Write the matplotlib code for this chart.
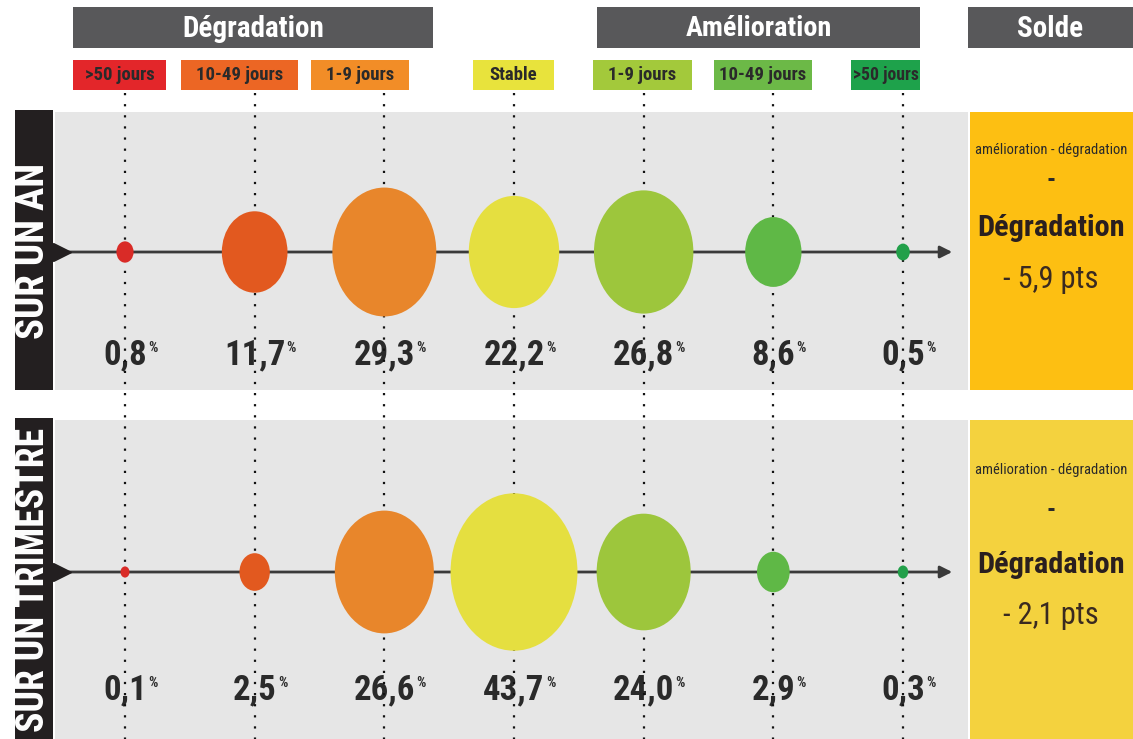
import matplotlib
matplotlib.use("Agg")
import matplotlib.pyplot as plt
from matplotlib.patches import Rectangle, Ellipse
from matplotlib import font_manager as fm
import numpy as np

# ---------------- data ----------------
categories = [">50 jours", "10-49 jours", "1-9 jours", "Stable", "1-9 jours", "10-49 jours", ">50 jours"]
groups = ["Dégradation", "Amélioration", "Solde"]
periods = ["SUR UN AN", "SUR UN TRIMESTRE"]
values_an = [0.8, 11.7, 29.3, 22.2, 26.8, 8.6, 0.5]
values_trim = [0.1, 2.5, 26.6, 43.7, 24.0, 2.9, 0.3]
solde_an = "- 5,9 pts"
solde_trim = "- 2,1 pts"
solde_formula = "amélioration - dégradation"
solde_verdict = "Dégradation"

label_colors = ["#e3262a", "#ec6624", "#f28d27", "#e8e33c", "#a3c93b", "#6cb947", "#1ea24b"]
bubble_colors = ["#d92b27", "#e2591f", "#e8862b", "#e5df40", "#9dc63c", "#5fb846", "#22a04a"]

# ---- pick a narrow font if one is installed ----
names = {f.name for f in fm.fontManager.ttflist}
narrow = None
for n in ["Liberation Sans Narrow", "Roboto Condensed", "Open Sans Condensed", "Noto Sans Condensed",
          "DejaVu Sans Condensed"]:
    if n in names:
        narrow = n
        break
STRETCH = "normal"
if narrow is None:
    for f in fm.fontManager.ttflist:
        if f.stretch in ("condensed", "semi-condensed", "extra-condensed") and f.name in (
                "DejaVu Sans", "Noto Sans", "Open Sans", "Roboto", "Inter"):
            narrow = f.name
            STRETCH = f.stretch
            break
FAMILY = [narrow, "DejaVu Sans"] if narrow else ["DejaVu Sans"]
plt.rcParams["font.family"] = FAMILY

W, H = 1133, 739
fig = plt.figure(figsize=(W / 100, H / 100), dpi=100)
ax = fig.add_axes([0, 0, 1, 1])
ax.set_axis_off()
renderer = fig.canvas.get_renderer()

PX0, STEP = 125.0, (903 - 125) / 6.0
def px2x(px):
    return (px - PX0) / STEP
ax.set_xlim(px2x(0), px2x(W))
ax.set_ylim(H, 0)
xs = np.arange(len(categories))

def rect(px_l, y_t, px_r, y_b, color, z=1):
    r = Rectangle((px2x(px_l), y_t), px2x(px_r) - px2x(px_l), y_b - y_t,
                  facecolor=color, edgecolor="none", zorder=z)
    ax.add_patch(r)
    return r

def txt(xpx, y, s, size, maxw=None, maxh=None, **kw):
    t = ax.text(px2x(xpx), y, s, ha=kw.pop("ha", "center"), va=kw.pop("va", "center"),
                fontsize=size, fontstretch=STRETCH, **kw)
    if maxw or maxh:
        for _ in range(40):
            bb = t.get_window_extent(renderer)
            ok = (maxw is None or bb.width <= maxw) and (maxh is None or bb.height <= maxh)
            if ok:
                break
            t.set_fontsize(t.get_fontsize() * 0.97)
    return t

hdr = "#58585a"
hdr_boxes = [(73, 433), (597, 920), (968, 1133)]
for (l, r), g in zip(hdr_boxes, groups):
    rect(l, 7, r, 48, hdr)
    txt((l + r) / 2, 29, g, 21, maxw=150, color="white", fontweight="bold", zorder=3)

lab_boxes = [(73, 166), (181, 298), (311, 409), (473, 554), (593, 692), (714, 812), (851, 920)]
for (l, r), c, name in zip(lab_boxes, label_colors, categories):
    rect(l, 60, r, 90, c)
    txt((l + r) / 2, 75.5, name, 13.5, maxw=(r - l) - 3, color="#2a2a2a",
        fontweight="bold", zorder=3)

panels = [
    dict(top=112, bot=390, axis_y=252, lab_y=355, vals=values_an, solde=solde_an,
         solde_col="#fdbf12", name=periods[0], txt_y=(150, 180, 228, 280)),
    dict(top=420, bot=739, axis_y=572, lab_y=690, vals=values_trim, solde=solde_trim,
         solde_col="#f4d23e", name=periods[1], txt_y=(470, 510, 565, 615)),
]

K = 19.2
for p in panels:
    rect(55, p["top"], 968, p["bot"], "#e6e6e6", z=0)
    rect(15, p["top"] - 2, 53, p["bot"], "#231f20", z=1)
    t = ax.text(px2x(34), (p["top"] + p["bot"]) / 2, p["name"], rotation=90, ha="center",
                va="center", color="white", fontsize=28, fontweight="bold",
                fontstretch=STRETCH, zorder=3)
    span = p["bot"] - p["top"] - 10
    for _ in range(40):
        if t.get_window_extent(renderer).height <= span:
            break
        t.set_fontsize(t.get_fontsize() * 0.97)
    rect(970, p["top"], 1133, p["bot"], p["solde_col"], z=1)
    txt(1051, p["txt_y"][0], solde_formula, 10.5, maxw=158, color="#2a2a2a", zorder=3)
    txt(1051, p["txt_y"][1], "-", 18, color="#2a2a2a", fontweight="bold", zorder=3)
    txt(1051, p["txt_y"][2], solde_verdict, 24, maxw=150, color="#2a1f1f",
        fontweight="bold", zorder=3)
    txt(1051, p["txt_y"][3], p["solde"], 22, maxw=110, color="#3a2a20", zorder=3)

    ax.annotate("", xy=(px2x(955), p["axis_y"]), xytext=(px2x(60), p["axis_y"]),
                arrowprops=dict(arrowstyle="-|>", color="#3a3a3a", lw=2,
                                mutation_scale=18), zorder=2)
    ax.plot([px2x(62)], [p["axis_y"]], marker=">", color="#231f20", markersize=13, zorder=4)

    for x, v, c in zip(xs, p["vals"], bubble_colors):
        w = max(K * np.sqrt(v), 9)
        ax.add_patch(Ellipse((x, p["axis_y"]), w / STEP, w * 1.24, facecolor=c,
                             edgecolor="none", zorder=5))
        lab = f"{v:.1f}".replace(".", ",")
        tn = ax.text(x, p["lab_y"], lab, ha="center", va="center", color="#2a2a2a",
                     fontsize=25, fontweight="bold", fontstretch=STRETCH, zorder=3)
        bb = tn.get_window_extent(renderer)
        ax.annotate("%", xy=(x, p["lab_y"]), xytext=(bb.width / 2 * 0.72 + 1, 5),
                    textcoords="offset points", ha="left", va="center", fontsize=10.5,
                    fontweight="bold", color="#2a2a2a", zorder=3)

for x in xs:
    ax.plot([x, x], [93, H], linestyle=(0, (1, 4)), color="#111111", lw=1.6, zorder=4)

fig.savefig("out.png", dpi=100, facecolor="white")
